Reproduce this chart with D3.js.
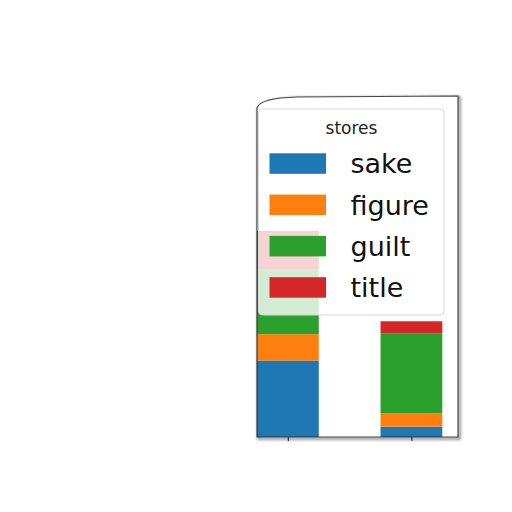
<!DOCTYPE html>
<html>
<head>
<meta charset="utf-8">
<script src="https://cdn.jsdelivr.net/npm/d3@7"></script>
<style>
  body { margin: 0; background: #fff; }
  svg { display: block; font-family: "DejaVu Sans", sans-serif; }
</style>
</head>
<body>
<div id="chart"></div>
<script>
// data
var groups = ["A", "B"];
var seriesNames = ["sake", "figure", "guilt", "title"];
var sake = [7.4, 1.0];
var figure = [2.55, 1.3];
var guilt = [6.3, 7.7];
var title = [3.7, 1.2];
var colors = ["#1f77b4", "#ff7f0e", "#2ca02c", "#d62728"];
var legendTitle = "stores";

var width = 512, height = 512;
var plot = { left: 257, right: 458, top: 96, bottom: 437 };

var svg = d3.select("#chart").append("svg")
  .attr("width", width)
  .attr("height", height);

// rows for d3.stack
var table = groups.map(function(g, i) {
  return { group: g, sake: sake[i], figure: figure[i], guilt: guilt[i], title: title[i] };
});
var stacked = d3.stack().keys(seriesNames)(table);

var x = d3.scaleLinear().domain([-0.25, 1.377]).range([plot.left, plot.right]);
var y = d3.scaleLinear().domain([0, 33]).range([plot.bottom, plot.top]);
var barWidth = x(0.5) - x(0);

// frame shadow + spines (top-left corner curls a bit)
var framePath = "M" + plot.left + "," + plot.bottom +
  " L" + plot.left + "," + (plot.top + 12) +
  " Q" + (plot.left + 3) + "," + (plot.top + 2) + " " + (plot.left + 40) + "," + (plot.top + 1) +
  " L" + plot.right + "," + plot.top +
  " L" + plot.right + "," + plot.bottom + " Z";

var defs = svg.append("defs");
defs.append("filter").attr("id", "blur")
  .append("feGaussianBlur").attr("stdDeviation", 1.5);

svg.append("path")
  .attr("d", framePath)
  .attr("transform", "translate(1.5,1.5)")
  .attr("fill", "none")
  .attr("stroke", "#888")
  .attr("stroke-width", 2.5)
  .attr("filter", "url(#blur)");

svg.append("path")
  .attr("d", framePath)
  .attr("fill", "#fff")
  .attr("stroke", "none");

// bars
svg.append("g").selectAll("g")
  .data(stacked)
  .join("g")
  .attr("fill", function(d, i) { return colors[i]; })
  .selectAll("rect")
  .data(function(d) { return d; })
  .join("rect")
  .attr("x", function(d, i) { return x(i) - barWidth / 2; })
  .attr("y", function(d) { return y(d[1]); })
  .attr("width", barWidth)
  .attr("height", function(d) { return y(d[0]) - y(d[1]); });

// spines on top
svg.append("path")
  .attr("d", framePath)
  .attr("fill", "none")
  .attr("stroke", "#2a2a2a")
  .attr("stroke-width", 1.2)
  .attr("stroke-opacity", 0.85);

// bottom axis ticks, no labels
var xAxis = d3.axisBottom(x)
  .tickValues([0, 1])
  .tickSize(4)
  .tickFormat("");
var gx = svg.append("g")
  .attr("transform", "translate(0," + plot.bottom + ")")
  .call(xAxis);
gx.select(".domain").remove();
gx.selectAll("line").attr("stroke", "#333").attr("stroke-width", 1.2);

// legend
var legend = svg.append("g").attr("transform", "translate(258.5,109)");
legend.append("rect")
  .attr("width", 185.5)
  .attr("height", 206)
  .attr("rx", 4)
  .attr("fill", "#fff")
  .attr("fill-opacity", 0.8)
  .attr("stroke", "#d6d6d6")
  .attr("stroke-width", 1);

legend.append("text")
  .attr("x", 93)
  .attr("y", 24.5)
  .attr("text-anchor", "middle")
  .attr("font-size", 17)
  .attr("fill", "#222")
  .text(legendTitle);

var items = legend.selectAll("g.item")
  .data(seriesNames)
  .join("g")
  .attr("class", "item")
  .attr("transform", function(d, i) { return "translate(0," + (44.3 + i * 41.3) + ")"; });

items.append("rect")
  .attr("x", 11)
  .attr("width", 56.5)
  .attr("height", 20.5)
  .attr("fill", function(d, i) { return colors[i]; });

items.append("text")
  .attr("x", 92)
  .attr("y", 20)
  .attr("font-size", 27)
  .attr("fill", "#111")
  .text(function(d) { return d; });
</script>
</body>
</html>
